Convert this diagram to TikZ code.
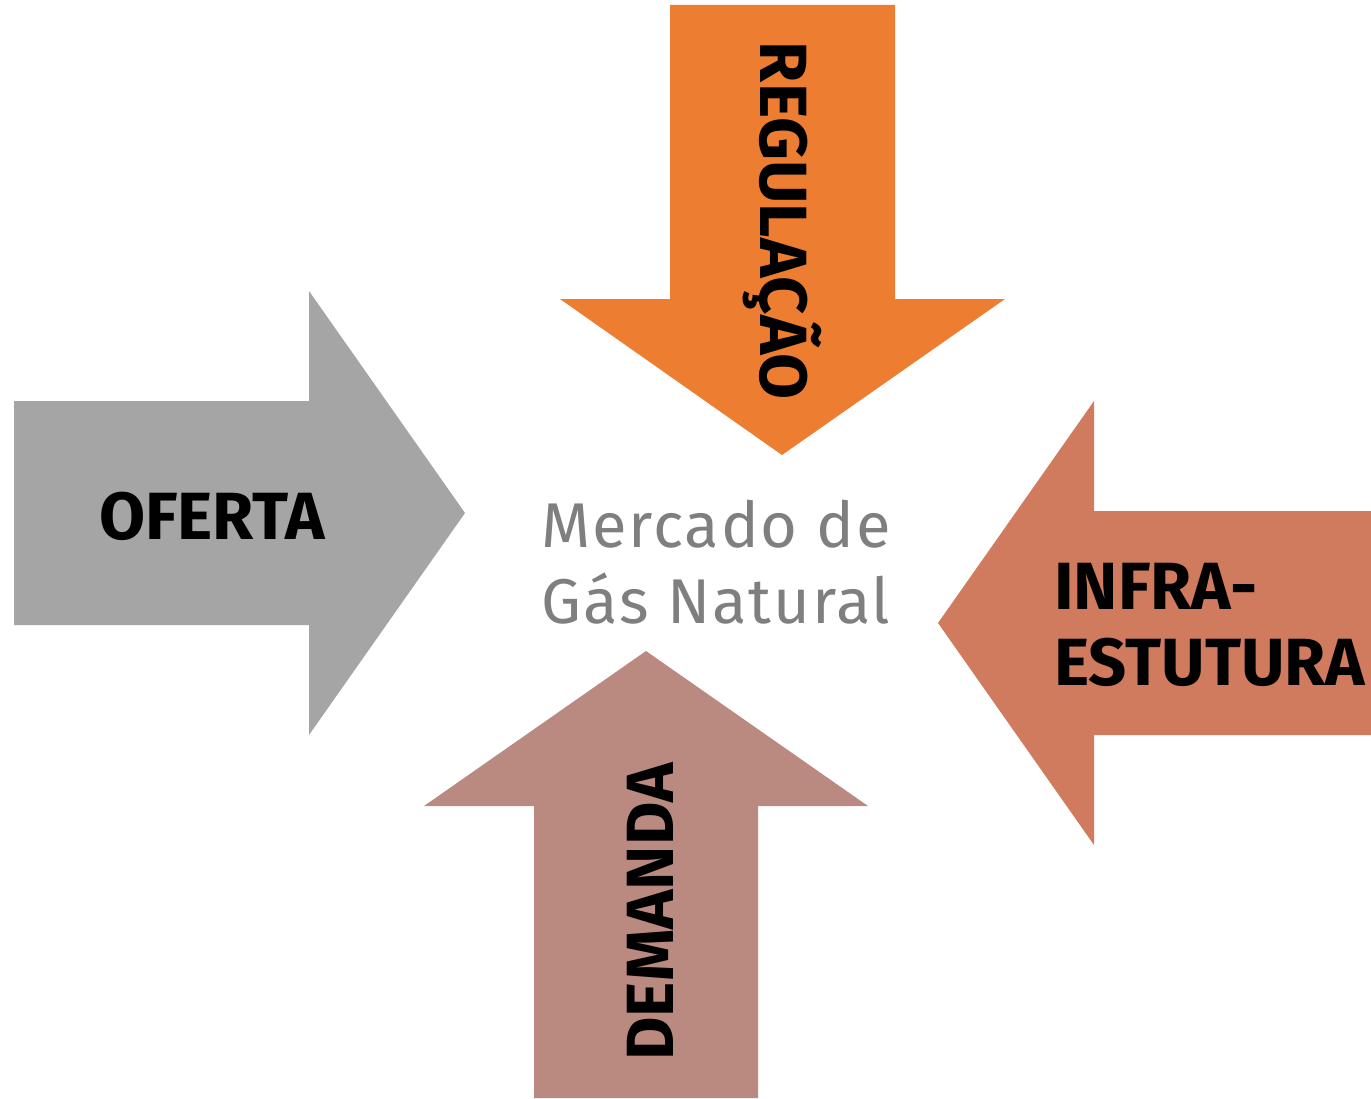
\documentclass[tikz,border=0pt]{standalone}
\usepackage{fontspec}
\setmainfont{Fira Sans}
\usetikzlibrary{positioning}
\definecolor{ofertagray}{HTML}{A5A5A5}
\definecolor{regorange}{HTML}{ED7D31}
\definecolor{infrared}{HTML}{D17B5E}
\definecolor{demandarose}{HTML}{BA8A80}
\definecolor{centergray}{HTML}{7F7F7F}
\begin{document}
\begin{tikzpicture}[
		x=0.02cm,y=-0.02cm,
		bigarrow/.style={
			draw=none
		},
		label/.style={
			font=\fontsize{38}{43}\selectfont\bfseries,
			text=black,
			inner sep=0
		},
		center/.style={
			font=\fontsize{36}{43}\selectfont\addfontfeature{LetterSpace=3},
			text=centergray,
			align=center,
			inner sep=0
		}
		]
		\useasboundingbox (0,0) rectangle (1371,1098);
		% Arrows
		\fill[bigarrow,ofertagray] (14,401) -- (309,401) -- (309,291) -- (465,513) -- (309,735) -- (309,625) -- (14,625) -- cycle;
		\fill[bigarrow,regorange] (670,5) -- (895,5) -- (895,299) -- (1005,299) -- (782,455) -- (560,299) -- (670,299) -- cycle;
		\fill[bigarrow,infrared] (1371,511) -- (1094,511) -- (1094,401) -- (938,623) -- (1094,845) -- (1094,735) -- (1371,735) -- cycle;
		\fill[bigarrow,demandarose] (534,1098) -- (534,806) -- (424,806) -- (646,651) -- (868,806) -- (758,806) -- (758,1098) -- cycle;
		% Labels
		\node[label] (oferta) at (212,516) {OFERTA};
		\node[label,rotate=-90] (regulacao) at (782,221) {REGULAÇÃO};
		\node[label,align=left,anchor=west] (infra) at (1054,625) {INFRA-\\ESTUTURA};
		\node[label,rotate=90] (demanda) at (650,912) {DEMANDA};
		% Center
		\node[center] (mercado) at (716,562) {Mercado de\\Gás Natural};
		\end{tikzpicture}
\end{document}
